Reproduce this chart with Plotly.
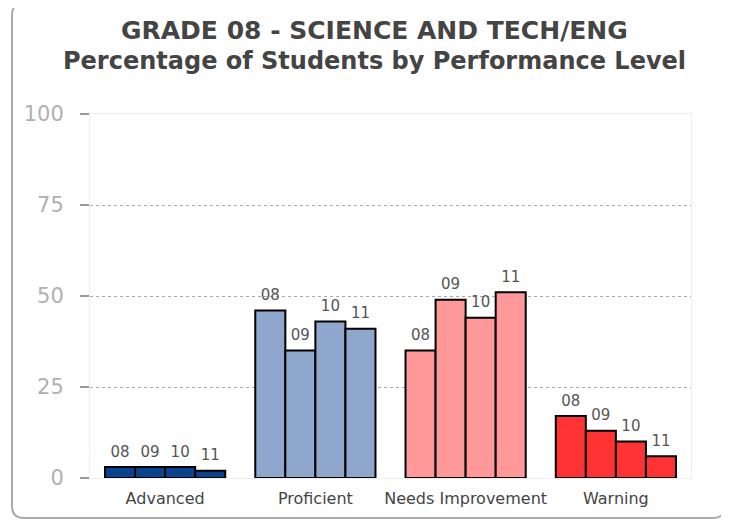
import plotly.graph_objects as go

categories = ["Advanced", "Proficient", "Needs Improvement", "Warning"]
years = ["08", "09", "10", "11"]
values = {
    "08": [3, 46, 35, 17],
    "09": [3, 35, 49, 13],
    "10": [3, 43, 44, 10],
    "11": [2, 41, 51, 6],
}
cat_colors = ["#0a428c", "#8fa7cc", "#ff9999", "#ff3333"]
y_ticks = [0, 25, 50, 75, 100]
title_lines = ["GRADE 08 - SCIENCE AND TECH/ENG",
               "Percentage of Students by Performance Level"]

# page has an 8px body margin; design in window pixels and offset
O = 8
W, H = 729 - O, 523 - O
PL, PR, PT, PB = 90, 691, 114, 478  # plot area in window pixels
ml, mr, mt, mb = PL - O, W + O - PR, PT - O, H + O - PB
pw, ph = PR - PL, PB - PT

fig = go.Figure()
for yr in years:
    fig.add_trace(go.Bar(
        x=categories, y=values[yr], name=yr,
        marker=dict(color=cat_colors, line=dict(color="black", width=2)),
        text=[yr] * len(categories), textposition="outside",
        texttemplate="<span style='font-size:15px'>%{text}</span><br> ",
        textfont=dict(family="DejaVu Sans", size=5, color="#555"),
        constraintext="none",
        cliponaxis=False,
    ))

def px(x):
    return (x - PL) / pw

def py(y):
    return (PB - y) / ph

x0, x1, y0, y1 = px(12), px(725), py(518), py(3)
rx, ry = 12 / pw, 12 / ph
path = (f"M {x0+rx},{y1} L {x1-rx},{y1} Q {x1},{y1} {x1},{y1-ry} "
        f"L {x1},{y0+ry} Q {x1},{y0} {x1-rx},{y0} L {x0+rx},{y0} "
        f"Q {x0},{y0} {x0},{y0+ry} L {x0},{y1-ry} Q {x0},{y1} {x0+rx},{y1} Z")

annotations = []
for line, yc, fs in zip(title_lines, [31, 61], [25, 24]):
    annotations.append(dict(
        text=f"<b>{line}</b>", x=px(374), y=py(yc), xref="paper", yref="paper",
        xanchor="center", yanchor="middle", showarrow=False,
        font=dict(family="DejaVu Sans", size=fs, color="#444"),
    ))

fig.update_layout(
    width=W, height=H,
    margin=dict(l=ml, r=mr, t=mt, b=mb),
    paper_bgcolor="white", plot_bgcolor="white",
    barmode="group", bargap=0.2, bargroupgap=0,
    showlegend=False,
    font=dict(family="DejaVu Sans"),
    annotations=annotations,
    shapes=[dict(type="path", xref="paper", yref="paper", path=path,
                 line=dict(color="#aaaaaa", width=2), layer="below")],
    xaxis=dict(
        showgrid=False, showline=True, linecolor="#eeeeee", mirror=True,
        tickfont=dict(size=16, color="#444"), ticks="",
        ticklabelstandoff=6,
    ),
    yaxis=dict(
        range=[0, 100], tickvals=y_ticks,
        showgrid=True, gridcolor="#aaaaaa", griddash="dot", gridwidth=1,
        showline=True, linecolor="#eeeeee", mirror=True,
        ticks="outside", ticklen=9, tickcolor="#999", tickwidth=2,
        tickfont=dict(size=21, color="#b0b0b0"),
        ticklabelstandoff=12,
        zeroline=False,
    ),
)

fig.write_html("out.html")
